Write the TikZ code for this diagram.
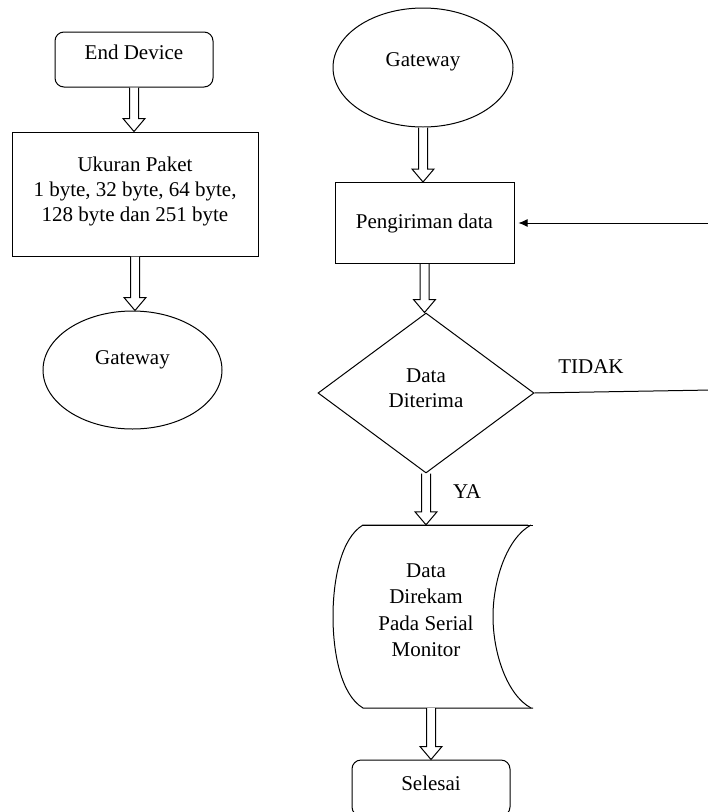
\documentclass[tikz,border=0pt]{standalone}
\usepackage{fontspec}
\setmainfont{Liberation Serif}
\usetikzlibrary{shapes.geometric,calc,arrows.meta}
\newcommand\hollowarr[2]{\draw[harrow] let \p1=(#1), \p2=(#2) in (\x1-4.5pt,\y1) -- (\x1-4.5pt,\y2+13pt) -- (\x1-11pt,\y2+13pt) -- (\x1,\y2) -- (\x1+11pt,\y2+13pt) -- (\x1+4.5pt,\y2+13pt) -- (\x1+4.5pt,\y1);}
\begin{document}
\begin{tikzpicture}[x=1pt,y=-1pt,
  every node/.style={font=\fontsize{21}{25}\selectfont, inner sep=0pt, align=center},
  lw/.style={line width=1pt},
  harrow/.style={lw, fill=white},
  roundbox/.style={lw, draw, rounded corners=9pt},
  plainbox/.style={lw, draw},
  oval/.style={lw, draw, ellipse},
  decision/.style={lw, draw, diamond},
  flowline/.style={lw},
  flowarrow/.style={lw, -{Latex[length=9pt,width=8pt]}, shorten >=4pt}]
\useasboundingbox (0,0) rectangle (708,812);
\fill[white] (0,0) rectangle (708,812);

% left column
\node[roundbox, minimum width=158pt, minimum height=55pt,
  label={[yshift=7.5pt]center:End Device}] (ed) at (134,59.5) {};
\node[plainbox, minimum width=246pt, minimum height=124pt,
  label={[yshift=3pt]center:Ukuran Paket\\1 byte, 32 byte, 64 byte,\\128 byte dan 251 byte}] (uk) at (135,194) {};
\node[oval, minimum width=179pt, minimum height=118pt,
  label={[yshift=10pt]center:Gateway}] (gwl) at (132.5,370) {};

% right column
\node[oval, minimum width=180pt, minimum height=119pt,
  label={[yshift=5.5pt]center:Gateway}] (gwr) at (423,67.5) {};
\node[plainbox, minimum width=179pt, minimum height=81pt] (pd) at (424.5,223) {Pengiriman data};
\node[decision, minimum width=216pt, minimum height=160pt, aspect=1.35,
  label={[yshift=5pt]center:Data\\Diterima}] (dt) at (426,393) {};
\node[minimum width=200pt, minimum height=183pt,
  label={[xshift=-5pt,yshift=6.5pt,font=\fontsize{21}{26.5}\selectfont]center:Data\\Direkam\\Pada Serial\\Monitor}] (st) at (431,616.5) {};
\draw[lw] (528,525) -- (363,525) .. controls (341,538) and (333,580) .. (333,616.5)
  .. controls (333,653) and (341,695) .. (363,708) -- (533,708);
\draw[lw] (363,525) -- (533,525);
\draw[lw] (531,525) .. controls (507,538) and (493,580) .. (493,616.5)
  .. controls (493,653) and (507,695) .. (531,708);
\node[roundbox, minimum width=158pt, minimum height=56pt,
  label={[yshift=4.5pt]center:Selesai}] (sel) at (431,788) {};

\node (tidak) at (591,367) {TIDAK};
\node (ya) at (467,492) {YA};

\coordinate (e1) at (712,223);
\coordinate (e2) at (712,390);

% connectors
\hollowarr{ed.south}{uk.north}
\hollowarr{uk.south}{gwl.north}
\hollowarr{gwr.south}{pd.north}
\hollowarr{pd.south}{dt.north}
\hollowarr{dt.south}{st.north}
\hollowarr{st.south}{sel.north}
\draw[flowline] (dt.east) -- (e2);
\draw[flowarrow] (e1) -- (pd.east);
\end{tikzpicture}
\end{document}
